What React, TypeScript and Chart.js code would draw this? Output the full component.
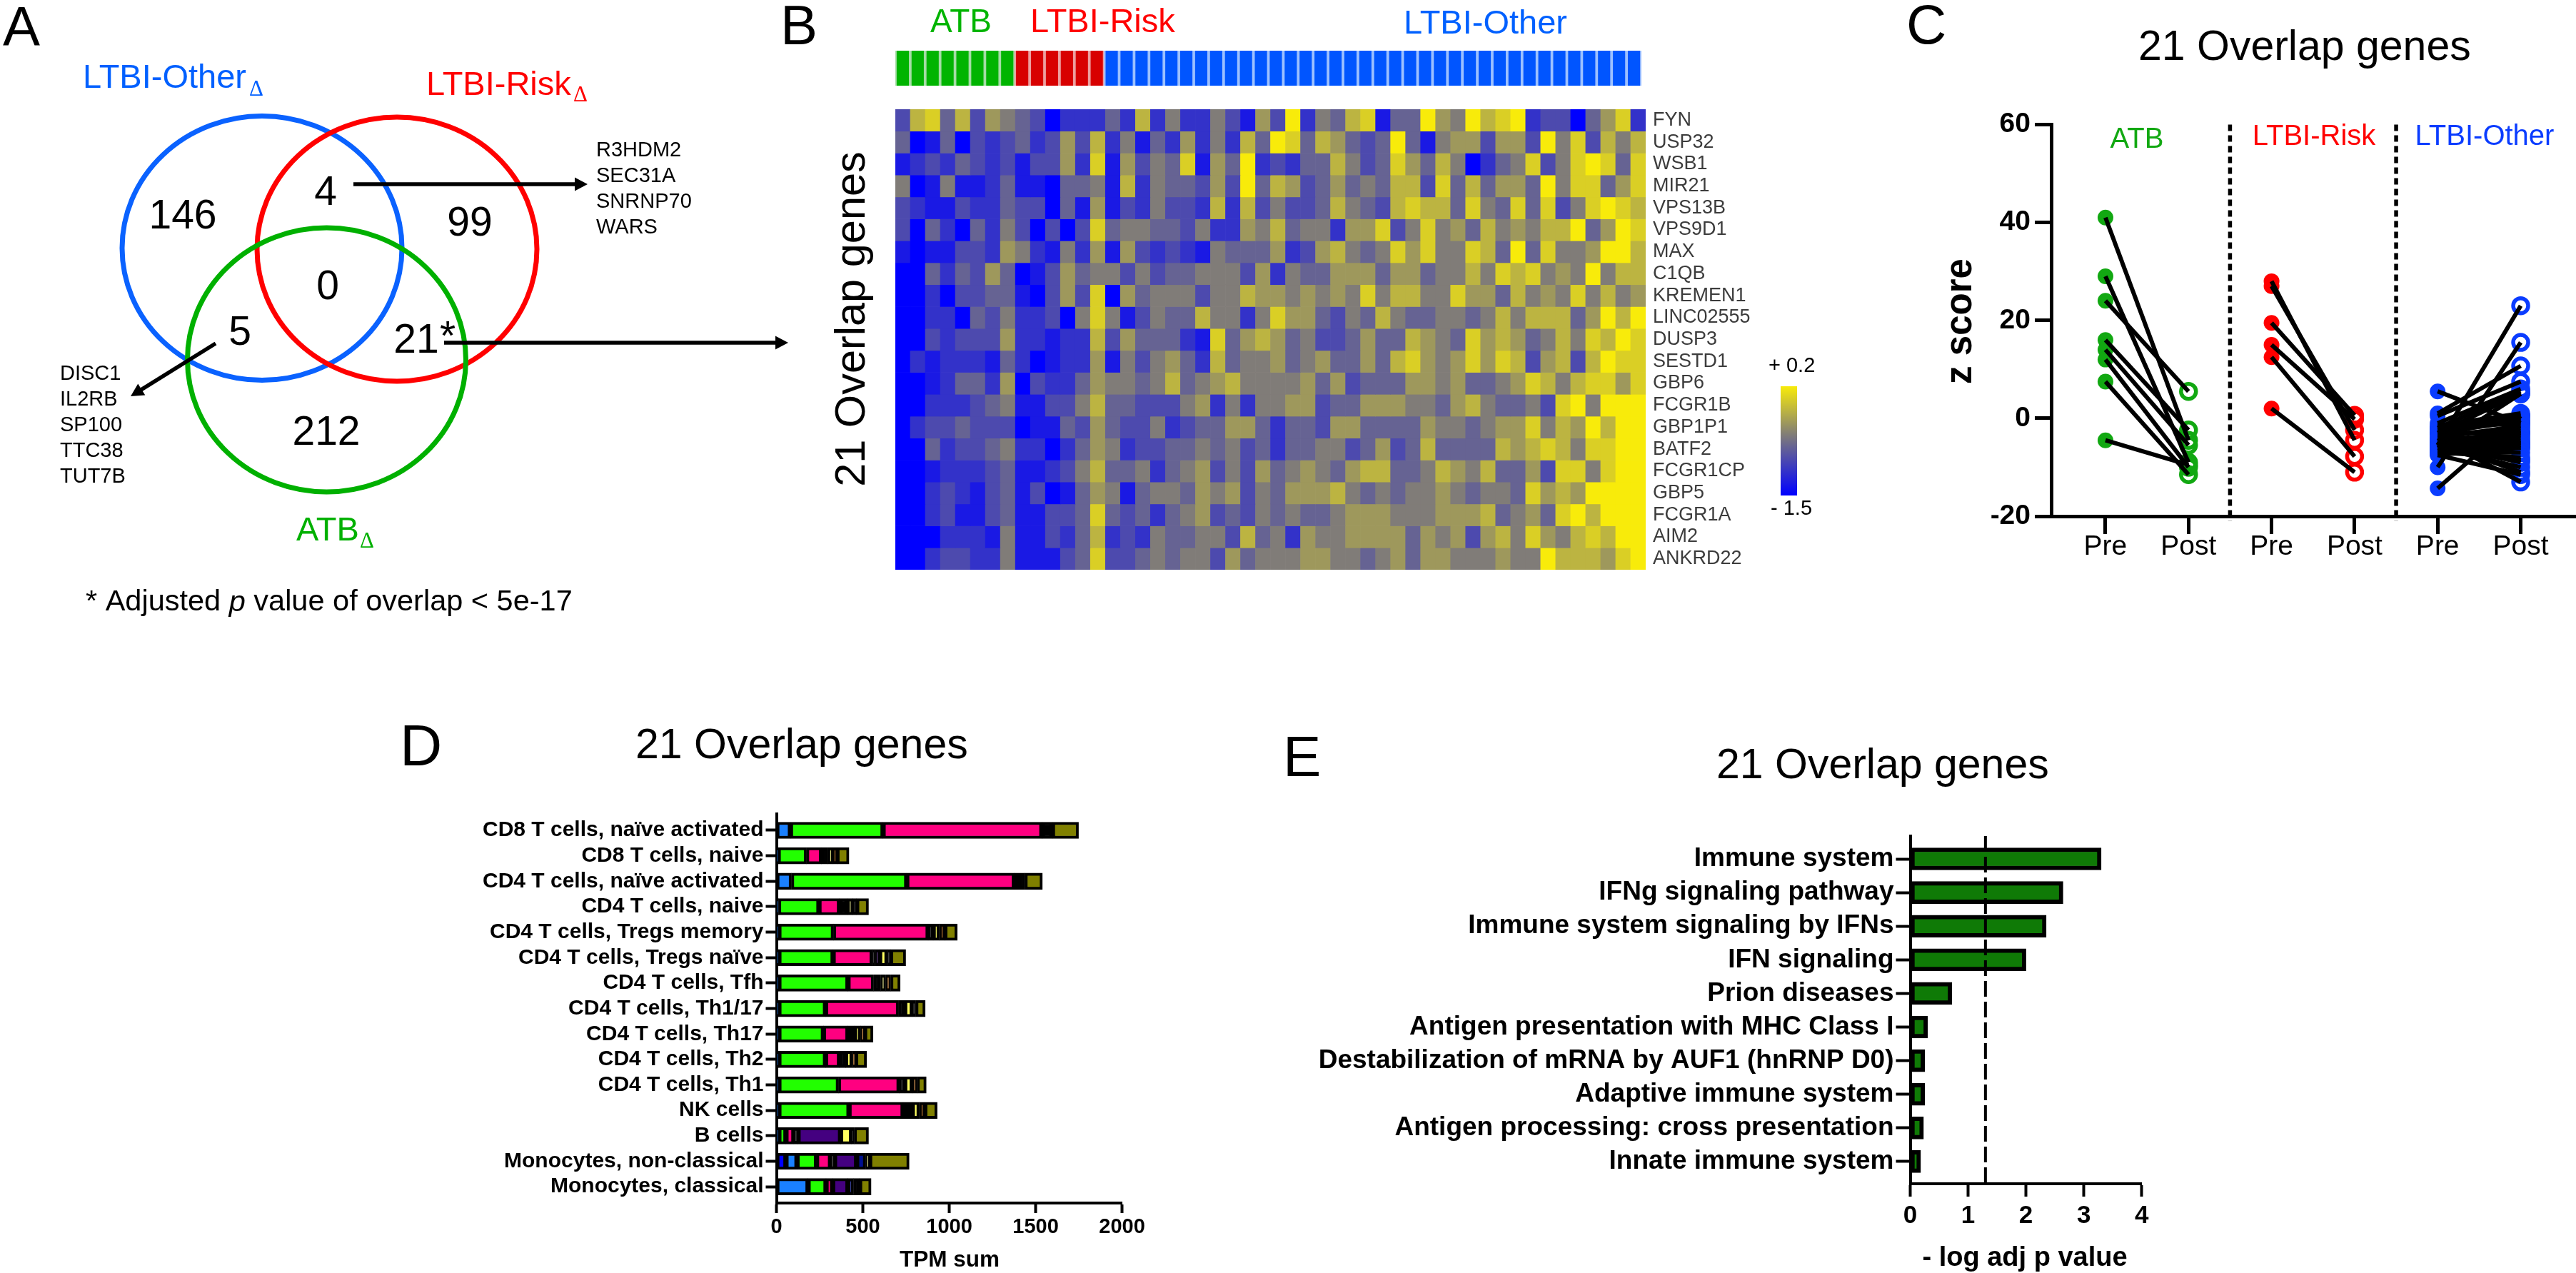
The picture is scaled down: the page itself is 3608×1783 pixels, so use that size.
import React, { useEffect, useRef } from "react";
import { Chart, registerables } from "chart.js";

Chart.register(...registerables);

const SANS = '"Liberation Sans", Arial, sans-serif';
const SERIF = '"Liberation Serif", serif';

/* ---------- Panel A ---------- */
const vennCounts = { other: "146", risk: "99", atb: "212", otherRisk: "4", otherAtb: "5", riskAtb: "21", all: "0" };
const overlapRiskOther = ["R3HDM2", "SEC31A", "SNRNP70", "WARS"];
const overlapAtbOther = ["DISC1", "IL2RB", "SP100", "TTC38", "TUT7B"];

/* ---------- Panel B ---------- */
const geneNames = ["FYN", "USP32", "WSB1", "MIR21", "VPS13B", "VPS9D1", "MAX", "C1QB", "KREMEN1", "LINC02555", "DUSP3", "SESTD1", "GBP6", "FCGR1B", "GBP1P1", "BATF2", "FCGR1CP", "GBP5", "FCGR1A", "AIM2", "ANKRD22"];
const heatPalette = ["#0000ff", "#1a19e4", "#3332c9", "#4d4aae", "#666393", "#807c78", "#9e985c", "#bcb441", "#dacf25", "#f8eb0a"];
const hFYN = [3,7,8,4,7,3,6,5,4,3,0,2,2,2,4,2,7,2,5,2,2,5,3,1,6,3,9,2,5,4,7,8,1,4,4,9,6,5,9,7,8,9,2,3,3,0,4,6,8,2];
const hUSP32 = [4,0,1,4,0,3,2,3,4,2,3,6,3,7,2,5,1,4,2,6,2,5,2,7,4,9,8,4,7,6,4,3,4,9,4,1,5,6,6,3,6,6,3,9,5,8,3,7,5,7];
const hWSB1 = [1,2,3,2,4,3,2,3,1,3,3,6,2,8,1,6,3,5,4,8,1,6,4,9,2,3,2,4,4,7,5,3,4,8,6,4,7,5,0,2,4,5,8,3,5,8,9,8,4,8];
const hMIR21 = [5,0,1,5,1,1,2,4,1,1,0,4,4,5,1,7,2,5,4,4,3,6,3,9,4,7,6,3,4,6,4,5,4,7,7,3,8,4,7,4,6,6,4,9,5,8,8,4,6,8];
const hVPS13B = [3,2,1,1,3,2,2,4,3,3,0,4,1,6,1,3,2,5,3,3,2,7,2,7,3,5,3,3,4,7,5,4,3,7,8,7,7,4,8,5,4,8,4,8,3,5,8,9,8,7];
const hVPS9D1 = [3,0,4,2,0,4,2,5,3,0,3,0,3,8,4,5,5,4,4,3,5,2,2,6,5,7,4,5,5,2,6,6,8,3,5,8,5,6,4,7,5,6,5,7,7,9,4,6,9,8];
const hMAX = [1,0,1,1,3,3,2,6,5,2,1,5,2,6,1,6,3,2,3,2,1,5,4,4,4,6,2,3,6,7,5,4,5,8,6,8,5,5,8,7,4,9,4,8,5,5,6,9,9,7];
const hC1QB = [0,0,4,2,4,3,6,4,0,1,3,6,4,5,5,3,5,3,4,4,5,5,5,3,6,2,5,4,4,6,6,6,4,6,6,4,5,5,7,5,8,7,8,5,6,5,9,5,7,7];
const hKREMEN1 = [0,0,2,0,3,3,4,4,1,0,3,6,3,8,0,6,4,5,5,5,3,5,5,7,6,6,5,6,5,6,5,8,5,7,7,5,5,8,6,6,4,7,5,6,5,8,5,7,5,6];
const hLINC02555 = [0,0,2,2,0,4,3,5,2,2,3,0,5,8,5,1,3,5,4,4,7,5,5,2,5,8,6,6,4,3,5,4,7,5,4,4,5,5,4,5,7,5,7,7,7,4,6,9,7,9];
const hDUSP3 = [0,0,3,2,3,3,3,6,2,2,1,2,2,7,3,6,4,4,4,2,1,8,4,6,7,6,4,5,3,3,4,6,4,4,7,6,5,4,8,6,7,6,4,5,7,5,8,7,9,8];
const hSESTD1 = [0,2,1,2,2,2,1,4,2,0,1,2,2,6,1,5,3,5,6,4,2,7,4,5,5,6,4,5,6,4,4,6,4,7,8,6,5,6,8,6,8,7,3,6,7,3,7,9,8,8];
const hGBP6 = [0,0,1,2,4,4,2,6,0,3,2,2,4,6,5,5,4,5,7,4,5,6,7,5,5,5,5,6,4,6,3,4,4,4,6,6,5,6,4,4,5,6,8,7,5,7,8,8,6,8];
const hFCGR1B = [0,0,2,2,2,3,4,5,1,1,3,3,5,7,4,4,3,3,3,5,6,2,5,2,5,5,6,6,3,4,4,6,6,6,5,5,4,6,7,5,4,4,5,3,8,9,5,9,9,9];
const hGBP1P1 = [0,2,3,3,4,3,3,3,0,1,1,4,3,6,4,3,3,5,2,3,4,4,6,6,4,2,4,4,3,6,6,4,4,4,4,6,5,5,4,5,6,6,8,5,7,6,9,7,9,9];
const hBATF2 = [0,0,4,2,3,3,4,5,2,2,0,2,4,6,5,2,3,3,4,4,5,4,5,3,4,2,4,4,5,5,3,4,6,3,4,7,4,4,4,4,7,6,7,8,7,5,8,8,9,9];
const hFCGR1CP = [0,0,1,2,2,2,3,4,1,1,2,3,5,7,4,4,5,2,4,5,6,3,5,3,6,4,5,6,5,4,6,7,7,4,4,5,7,6,5,7,4,4,6,3,8,8,5,8,9,9];
const hGBP5 = [0,0,2,3,2,1,3,4,1,3,0,1,4,6,5,1,4,5,5,4,6,5,6,3,5,4,6,6,6,7,5,4,5,4,5,5,6,5,4,5,5,4,8,6,7,6,9,9,9,9];
const hFCGR1A = [0,0,2,3,1,1,3,4,1,1,3,3,4,8,4,3,4,2,4,5,6,3,4,3,5,4,5,4,4,5,6,6,6,5,5,5,6,6,6,7,4,5,6,4,8,9,7,9,9,9];
const hAIM2 = [0,0,0,2,2,2,1,5,1,1,3,2,4,7,2,3,2,5,4,4,5,5,3,7,4,5,2,6,5,5,6,6,6,6,4,6,5,6,3,6,7,5,8,6,5,7,8,7,9,9];
const hANKRD22 = [0,0,2,3,3,2,2,5,1,1,1,3,4,8,3,3,4,5,4,5,5,3,6,4,5,5,5,6,6,5,5,4,5,6,4,6,6,5,5,5,6,5,5,9,7,7,7,6,8,9];
const heatRows = [hFYN, hUSP32, hWSB1, hMIR21, hVPS13B, hVPS9D1, hMAX, hC1QB, hKREMEN1, hLINC02555, hDUSP3, hSESTD1, hGBP6, hFCGR1B, hGBP1P1, hBATF2, hFCGR1CP, hGBP5, hFCGR1A, hAIM2, hANKRD22];
const sampleGroups = [
  { n: 8, solid: "#00b400", light: "#a5dca5" },
  { n: 6, solid: "#d80000", light: "#eca0a0" },
  { n: 36, solid: "#0055ff", light: "#9cc0ff" },
];
const legendRange = [-1.5, 0.2];

/* ---------- Panel C ---------- */
const atbPre = [41, 29, 24, 16, 14, 12, 7.5, -4.5];
const atbPost = [-4.5, -9, 5.5, -2.4, -5.5, -10, -11.5, -9.5];
const riskPre = [28, 27, 19.5, 15, 12.5, 2];
const riskPost = [-4.5, -2.4, 0.6, -0.2, -7.8, -11];
const otherPre = [5.5, 1, -5.5, -10, -14.3, 0.5, -1, -2, -3, -6, -1.5, -2, -2.5, -2, -3, -3.5, -3, -4, -4.5, -5, -5, -5.5, -4.5, -6, -6, -6.5, -7, -7, -7.5, -7, -6.5, -5.5, -6, -5, -7.5, -4];
const otherPost = [-1, 10.7, 23, 15.5, 0.5, 7.5, 6, 5.5, 5, 5, 1, 0.5, 0, -1, -0.5, -2, -3, -1.5, -3, -2.5, -4, -3.5, -5, -4.5, -6, -5, -5.5, -7, -6, -8, -8.5, -9, -10, -11, -11.5, -13];
const prePostLabels = ["Pre", "Post", "Pre", "Post", "Pre", "Post"];
const separators = [1.5, 3.5];
const zTicks = [-20, 0, 20, 40, 60];

/* ---------- Panel D ---------- */
const cellTypes = ["CD8 T cells, naïve activated", "CD8 T cells, naive", "CD4 T cells, naïve activated", "CD4 T cells, naive", "CD4 T cells, Tregs memory", "CD4 T cells, Tregs naïve", "CD4 T cells, Tfh", "CD4 T cells, Th1/17", "CD4 T cells, Th17", "CD4 T cells, Th2", "CD4 T cells, Th1", "NK cells", "B cells", "Monocytes, non-classical", "Monocytes, classical"];
const tpmRoyal = [0, 0, 0, 0, 0, 0, 0, 0, 0, 0, 0, 0, 0, 55, 0];
const tpmSky = [81, 10, 87, 12, 14, 14, 14, 14, 14, 14, 14, 14, 14, 64, 183];
const tpmLime = [536, 164, 667, 234, 316, 314, 400, 270, 258, 270, 345, 406, 41, 113, 104];
const tpmPink = [919, 87, 623, 119, 548, 226, 148, 423, 142, 81, 351, 313, 46, 81, 38];
const tpmBlack = [61, 37, 61, 46, 29, 16, 41, 35, 38, 35, 32, 53, 24, 23, 0];
const tpmPurple = [0, 0, 0, 0, 0, 27, 0, 0, 0, 0, 0, 0, 246, 128, 89];
const tpmNavy = [0, 0, 0, 0, 0, 0, 0, 0, 0, 0, 0, 0, 0, 52, 32];
const tpmYellow = [0, 30, 0, 32, 35, 43, 29, 44, 35, 38, 44, 40, 64, 23, 0];
const tpmOrange = [0, 22, 0, 0, 32, 0, 29, 0, 23, 20, 28, 32, 0, 0, 0];
const tpmBlack2 = [0, 0, 0, 21, 0, 20, 0, 20, 0, 0, 0, 0, 15, 0, 35];
const tpmOlive = [151, 70, 101, 69, 72, 88, 55, 55, 49, 64, 53, 72, 83, 229, 67];
const tpmTicks = [0, 500, 1000, 1500, 2000];

/* ---------- Panel E ---------- */
const pathways = ["Immune system", "IFNg signaling pathway", "Immune system signaling by IFNs", "IFN signaling", "Prion diseases", "Antigen presentation with MHC Class I", "Destabilization of mRNA by AUF1 (hnRNP D0)", "Adaptive immune system", "Antigen processing: cross presentation", "Innate immune system"];
const logP = [3.3, 2.64, 2.35, 2.0, 0.72, 0.3, 0.25, 0.25, 0.23, 0.18];
const pThreshold = 1.3;
const logPTicks = [0, 1, 2, 3, 4];

/* ---------- helpers ---------- */
type Box = { l: number; t: number; w: number; h: number; pl: number; pt: number; pr: number; pb: number };
const font = (size: number, weight = "normal") => ({ family: SANS, size, weight, lineHeight: 1.1 });

const paddingOf = (b: Box) => ({ left: 0, top: b.pt - b.t, right: b.l + b.w - b.pr, bottom: 0 });
const noPad = (s: any) => { s.paddingTop = 0; s.paddingBottom = 0; s.paddingLeft = 0; s.paddingRight = 0; };
const yWidth = (b: Box) => (s: any) => { s.width = b.pl - b.l; noPad(s); };
const xHeight = (b: Box) => (s: any) => { s.height = b.t + b.h - b.pb; noPad(s); };
const setTicks = (vals: number[]) => (s: any) => { s.ticks = vals.map((value) => ({ value })); };

const baseOptions = (b: Box) => ({
  responsive: false,
  animation: false as const,
  devicePixelRatio: 1,
  layout: { padding: paddingOf(b), autoPadding: false },
  plugins: { legend: { display: false }, tooltip: { enabled: false }, title: { display: false } },
  events: [] as any[],
});

function ChartBox({ box, make }: { box: Box; make: (b: Box) => any }) {
  const ref = useRef<HTMLCanvasElement | null>(null);
  useEffect(() => {
    const chart = new Chart(ref.current as HTMLCanvasElement, make(box));
    return () => chart.destroy();
  }, []);
  return (
    <canvas
      ref={ref}
      width={box.w}
      height={box.h}
      style={{ position: "absolute", left: box.l, top: box.t, width: box.w, height: box.h, display: "block" }}
    />
  );
}

/* ---------- charts ---------- */
const makeHeat = (b: Box) => ({
  type: "bar",
  data: {
    labels: heatRows[0].map((_, i) => String(i + 1)),
    datasets: heatRows.map((row, r) => ({
      label: geneNames[r],
      data: row.map(() => 1),
      backgroundColor: row.map((v) => heatPalette[v]),
      barPercentage: 1,
      categoryPercentage: 1,
      borderWidth: 0,
    })),
  },
  options: {
    ...baseOptions(b),
    layout: { padding: 0, autoPadding: false },
    scales: {
      x: { stacked: true, display: false },
      y: {
        type: "linear",
        position: "right",
        stacked: true,
        reverse: true,
        min: 0,
        max: geneNames.length,
        afterFit: (s: any) => { s.width = b.l + b.w - b.pr; noPad(s); },
        afterBuildTicks: setTicks(geneNames.map((_, i) => i + 0.5)),
        grid: { display: false },
        border: { display: false },
        ticks: {
          autoSkip: false,
          padding: 2,
          color: "#3c3c3c",
          font: font(27),
          callback: (v: number) => geneNames[Math.floor(v)],
        },
      },
    },
  },
});

const makeStrip = (b: Box) => {
  const solid: string[] = [];
  const light: string[] = [];
  sampleGroups.forEach((g) => {
    for (let i = 0; i < g.n; i++) { solid.push(g.solid); light.push(g.light); }
  });
  return {
    type: "bar",
    data: {
      labels: solid.map((_, i) => String(i + 1)),
      datasets: [
        { data: solid.map(() => 1), backgroundColor: solid, barPercentage: 0.82, categoryPercentage: 1, borderWidth: 0, order: 1 },
        { data: solid.map(() => 1), backgroundColor: light, barPercentage: 1, categoryPercentage: 1, borderWidth: 0, order: 2 },
      ],
    },
    options: {
      ...baseOptions(b),
      datasets: { bar: { grouped: false } },
      scales: {
        x: { display: false },
        y: { display: false, min: 0, max: 1 },
      },
    },
  };
};

const makeColorKey = (b: Box) => ({
  type: "bar",
  data: {
    labels: ["key"],
    datasets: [{
      data: [legendRange],
      barPercentage: 1,
      categoryPercentage: 1,
      borderWidth: 0,
      backgroundColor: (c: any) => {
        const area = c.chart.chartArea;
        if (!area) return heatPalette[5];
        const g = c.chart.ctx.createLinearGradient(0, area.bottom, 0, area.top);
        heatPalette.forEach((col, i) => g.addColorStop(i / (heatPalette.length - 1), col));
        return g;
      },
    }],
  },
  options: {
    ...baseOptions(b),
    scales: {
      x: { display: false },
      y: { display: false, min: legendRange[0], max: legendRange[1] },
    },
  },
});

const makeZ = (b: Box) => {
  const pairs = (pre: number[], post: number[], off: number) =>
    pre.map((p, i) => ({
      data: [{ x: off, y: p }, { x: off + 1, y: post[i] }],
      showLine: true,
      borderColor: "#000",
      borderWidth: 6,
      pointRadius: 0,
      clip: false,
      order: 1,
    }));
  const filled = (vals: number[], x: number, color: string) => ({
    data: vals.map((y) => ({ x, y })),
    pointRadius: 11,
    pointBackgroundColor: color,
    pointBorderColor: color,
    pointBorderWidth: 0,
    clip: false,
    order: 2,
  });
  const open = (vals: number[], x: number, color: string) => ({
    data: vals.map((y) => ({ x, y })),
    pointRadius: 10.5,
    pointBackgroundColor: "transparent",
    pointBorderColor: color,
    pointBorderWidth: 5.5,
    clip: false,
    order: 2,
  });
  const sep = separators.map((x) => ({
    data: [{ x, y: 60 }, { x, y: -21 }],
    showLine: true,
    borderColor: "#000",
    borderWidth: 5.5,
    borderDash: [9, 6],
    pointRadius: 0,
    clip: false,
    order: 3,
  }));
  return {
    type: "scatter",
    data: {
      datasets: [
        ...pairs(atbPre, atbPost, 0),
        ...pairs(riskPre, riskPost, 2),
        ...pairs(otherPre, otherPost, 4),
        filled(atbPre, 0, "#12a812"),
        open(atbPost, 1, "#12a812"),
        filled(riskPre, 2, "#ff0000"),
        open(riskPost, 3, "#ff0000"),
        filled(otherPre, 4, "#0a3cff"),
        open(otherPost, 5, "#0a3cff"),
        ...sep,
      ],
    },
    options: {
      ...baseOptions(b),
      scales: {
        x: {
          type: "linear",
          min: -0.653,
          max: 5.666,
          afterFit: xHeight(b),
          afterBuildTicks: setTicks(prePostLabels.map((_, i) => i)),
          grid: { drawOnChartArea: false, tickLength: 25, tickWidth: 5, tickColor: "#000" },
          border: { color: "#000", width: 5 },
          ticks: { autoSkip: false, maxRotation: 0, padding: -3, color: "#000", font: font(39), callback: (v: number) => prePostLabels[v] },
        },
        y: {
          type: "linear",
          min: -20,
          max: 60,
          afterFit: yWidth(b),
          afterBuildTicks: setTicks(zTicks),
          grid: { drawOnChartArea: false, tickLength: 23, tickWidth: 5, tickColor: "#000" },
          border: { color: "#000", width: 5 },
          ticks: { autoSkip: false, padding: 6, color: "#000", font: font(39, "bold") },
        },
      },
    },
  };
};

const makeTpm = (b: Box) => {
  const series: [number[], string][] = [
    [tpmRoyal, "#0000ff"], [tpmSky, "#1a80ff"], [tpmLime, "#22ff00"], [tpmPink, "#ff0080"], [tpmBlack, "#000000"],
    [tpmPurple, "#440080"], [tpmNavy, "#001090"], [tpmYellow, "#ffff60"], [tpmOrange, "#ff8000"], [tpmBlack2, "#000000"], [tpmOlive, "#808000"],
  ];
  return {
    type: "bar",
    data: {
      datasets: series.map(([vals, color]) => ({
        data: vals.map((x, y) => ({ x, y })).filter((p) => p.x > 0),
        backgroundColor: color,
        borderColor: "#000",
        borderWidth: 4,
        borderSkipped: false,
        barThickness: 23,
        clip: false,
      })),
    },
    options: {
      ...baseOptions(b),
      indexAxis: "y",
      scales: {
        x: {
          type: "linear",
          stacked: true,
          min: 0,
          max: 2000,
          afterFit: xHeight(b),
          afterBuildTicks: setTicks(tpmTicks),
          grid: { drawOnChartArea: false, tickLength: 14, tickWidth: 4, tickColor: "#000" },
          border: { color: "#000", width: 4 },
          ticks: { autoSkip: false, maxRotation: 0, padding: 4, color: "#000", font: font(29, "bold"), callback: (v: number) => String(v) },
        },
        y: {
          type: "linear",
          stacked: true,
          reverse: true,
          offset: false,
          min: -0.645,
          max: 14.64,
          afterFit: yWidth(b),
          afterBuildTicks: setTicks(cellTypes.map((_, i) => i)),
          grid: { offset: false, drawOnChartArea: false, tickLength: 15, tickWidth: 4, tickColor: "#000" },
          border: { color: "#000", width: 4 },
          ticks: { autoSkip: false, padding: 3, color: "#000", font: font(30, "bold"), callback: (v: number) => cellTypes[v] },
        },
      },
    },
  };
};

const makeEnrich = (b: Box) => ({
  type: "bar",
  data: {
    datasets: [
      {
        type: "scatter",
        data: [{ x: pThreshold, y: -0.68 }, { x: pThreshold, y: 9.66 }],
        showLine: true,
        borderColor: "#000",
        borderWidth: 4,
        borderDash: [22, 7],
        pointRadius: 0,
        clip: false,
        order: 1,
      },
      {
        data: logP.map((x, y) => ({ x, y })),
        backgroundColor: "#0f7a06",
        borderColor: "#000",
        borderWidth: 6,
        borderSkipped: false,
        barThickness: 31,
        order: 2,
      },
    ],
  },
  options: {
    ...baseOptions(b),
    indexAxis: "y",
    scales: {
      x: {
        type: "linear",
        min: 0,
        max: 4,
        afterFit: xHeight(b),
        afterBuildTicks: setTicks(logPTicks),
        grid: { drawOnChartArea: false, tickLength: 18, tickWidth: 4, tickColor: "#000" },
        border: { color: "#000", width: 4 },
        ticks: { autoSkip: false, maxRotation: 0, padding: 8, color: "#000", font: font(35, "bold") },
      },
      y: {
        type: "linear",
        reverse: true,
        offset: false,
        min: -0.68,
        max: 9.66,
        afterFit: yWidth(b),
        afterBuildTicks: setTicks(pathways.map((_, i) => i)),
        grid: { offset: false, drawOnChartArea: false, tickLength: 20, tickWidth: 4, tickColor: "#000" },
        border: { color: "#000", width: 4 },
        ticks: { autoSkip: false, padding: 3, color: "#000", font: font(37, "bold"), callback: (v: number) => pathways[v] },
      },
    },
  },
});

/* ---------- free annotations (panel A, letters, titles) on a full page scale ---------- */
const annotationPlugin = {
  id: "annotations",
  afterDraw(chart: any) {
    const { ctx, scales } = chart;
    const X = (v: number) => scales.x.getPixelForValue(v);
    const Y = (v: number) => scales.y.getPixelForValue(v);

    const text = (s: string, x: number, y: number, size: number, o: any = {}) => {
      ctx.save();
      ctx.font = `${o.italic ? "italic " : ""}${o.bold ? "bold " : ""}${size}px ${o.serif ? SERIF : SANS}`;
      ctx.fillStyle = o.color || "#000";
      ctx.textAlign = o.align || "left";
      ctx.textBaseline = o.base || "alphabetic";
      ctx.translate(X(x), Y(y));
      if (o.rot) ctx.rotate(o.rot);
      ctx.fillText(s, 0, 0);
      ctx.restore();
    };
    const ring = (cx: number, cy: number, rx: number, ry: number, color: string) => {
      ctx.save();
      ctx.beginPath();
      ctx.ellipse(X(cx), Y(cy), rx, ry, 0, 0, Math.PI * 2);
      ctx.strokeStyle = color;
      ctx.lineWidth = 7;
      ctx.stroke();
      ctx.restore();
    };
    const arrow = (x0: number, y0: number, x1: number, y1: number) => {
      const a = Math.atan2(y1 - y0, x1 - x0);
      ctx.save();
      ctx.strokeStyle = "#000";
      ctx.fillStyle = "#000";
      ctx.lineWidth = 5.5;
      ctx.beginPath();
      ctx.moveTo(X(x0), Y(y0));
      ctx.lineTo(X(x1) - 14 * Math.cos(a), Y(y1) - 14 * Math.sin(a));
      ctx.stroke();
      ctx.translate(X(x1), Y(y1));
      ctx.rotate(a);
      ctx.beginPath();
      ctx.moveTo(0, 0);
      ctx.lineTo(-18, -9.5);
      ctx.lineTo(-18, 9.5);
      ctx.closePath();
      ctx.fill();
      ctx.restore();
    };

    const BLUE = "#0060ff";
    const RED = "#ff0000";
    const GREEN = "#00b000";

    // panel letters
    text("A", 4, 64, 78);
    text("B", 1093, 62, 78);
    text("C", 2670, 61, 78);
    text("D", 560, 1072, 82);
    text("E", 1797, 1087, 80);

    // panel A
    text("LTBI-Other", 116, 123, 47, { color: BLUE });
    text("Δ", 349, 134, 31, { color: BLUE, serif: true });
    text("LTBI-Risk", 597, 133, 47, { color: RED });
    text("Δ", 803, 142, 31, { color: RED, serif: true });
    text("ATB", 415, 757, 47, { color: GREEN });
    text("Δ", 504, 767, 31, { color: GREEN, serif: true });
    ring(367, 347.5, 196, 185, "#0a62ff");
    ring(556, 349, 196, 185, RED);
    ring(457.5, 504, 195, 185, GREEN);
    const num = (s: string, x: number, y: number) => text(s, x, y, 57, { align: "center", base: "middle" });
    num(vennCounts.other, 256, 304);
    num(vennCounts.risk, 658, 314);
    num(vennCounts.atb, 457, 607);
    num(vennCounts.otherRisk, 456, 271);
    num(vennCounts.all, 459, 403);
    num(vennCounts.otherAtb, 336, 467);
    num(vennCounts.riskAtb, 583, 478);
    text("*", 627, 490, 57, { align: "center" });
    arrow(495, 258, 823, 258);
    arrow(622, 480, 1104, 480);
    arrow(302, 481, 183, 555);
    overlapRiskOther.forEach((g, i) => text(g, 835, 211 + i * 36, 29, { base: "middle" }));
    overlapAtbOther.forEach((g, i) => text(g, 84, 524 + i * 36, 29, { base: "middle" }));

    // footnote with italic p
    ctx.save();
    const noteSize = 41.5;
    const seg = (s: string, italic: boolean, x: number) => {
      text(s, x, 844, noteSize, { base: "middle", italic });
      ctx.font = `${italic ? "italic " : ""}${noteSize}px ${SANS}`;
      return x + ctx.measureText(s).width;
    };
    let nx = seg("* Adjusted ", false, 120);
    nx = seg("p", true, nx);
    seg(" value of overlap < 5e-17", false, nx);
    ctx.restore();

    // panel B
    text("ATB", 1303, 45, 46, { color: "#00b400" });
    text("LTBI-Risk", 1443, 45, 47, { color: RED });
    text("LTBI-Other", 1966, 47, 47, { color: "#0060ff" });
    text("21 Overlap genes", 1211, 447, 59.5, { align: "center", rot: -Math.PI / 2 });
    text("+ 0.2", 2477, 513, 29, { base: "middle" });
    text("- 1.5", 2480, 713, 29, { base: "middle" });

    // panel C
    text("21 Overlap genes", 2995, 84, 59);
    text("ATB", 2993, 196, 40, { color: "#12a812", align: "center", base: "middle" });
    text("LTBI-Risk", 3241, 192, 40, { color: RED, align: "center", base: "middle" });
    text("LTBI-Other", 3480, 192, 40, { color: "#0a3cff", align: "center", base: "middle" });
    text("z score", 2761, 450, 51, { bold: true, align: "center", rot: -Math.PI / 2 });

    // panel D
    text("21 Overlap genes", 890, 1062, 59);
    text("TPM sum", 1330, 1765, 31.5, { bold: true, align: "center", base: "middle" });

    // panel E
    text("21 Overlap genes", 2404, 1090, 59);
    text("- log adj p value", 2836, 1763, 38, { bold: true, align: "center", base: "middle" });
  },
};

const makeAnnotations = (b: Box) => ({
  type: "scatter",
  data: { datasets: [] as any[] },
  options: {
    ...baseOptions(b),
    scales: {
      x: { type: "linear", display: false, min: 0, max: 3608 },
      y: { type: "linear", display: false, min: 0, max: 1783, reverse: true },
    },
  },
  plugins: [annotationPlugin],
});

/* ---------- layout ---------- */
const boxHeat: Box = { l: 1254, t: 153, w: 1206, h: 645, pl: 1254, pt: 153, pr: 2305, pb: 798 };
const boxStrip: Box = { l: 1254, t: 71, w: 1045, h: 49, pl: 1254, pt: 71, pr: 2299, pb: 120 };
const boxKey: Box = { l: 2494, t: 541, w: 23, h: 153, pl: 2494, pt: 541, pr: 2517, pb: 694 };
const boxZ: Box = { l: 2760, t: 150, w: 848, h: 650, pl: 2873, pt: 174.5, pr: 3608, pb: 723 };
const boxTpm: Box = { l: 600, t: 1120, w: 1020, h: 630, pl: 1087.5, pt: 1140, pr: 1571.6, pb: 1685 };
const boxEnrich: Box = { l: 1800, t: 1150, w: 1250, h: 585, pl: 2675.5, pt: 1171, pr: 2999.7, pb: 1658 };
const boxPage: Box = { l: 0, t: 0, w: 3608, h: 1783, pl: 0, pt: 0, pr: 3608, pb: 1783 };

export default function App() {
  return (
    <div style={{ position: "absolute", left: 0, top: 0, width: 3608, height: 1783, overflow: "hidden", background: "#fff" }}>
      <ChartBox box={boxHeat} make={makeHeat} />
      <ChartBox box={boxStrip} make={makeStrip} />
      <ChartBox box={boxKey} make={makeColorKey} />
      <ChartBox box={boxZ} make={makeZ} />
      <ChartBox box={boxTpm} make={makeTpm} />
      <ChartBox box={boxEnrich} make={makeEnrich} />
      <ChartBox box={boxPage} make={makeAnnotations} />
    </div>
  );
}
